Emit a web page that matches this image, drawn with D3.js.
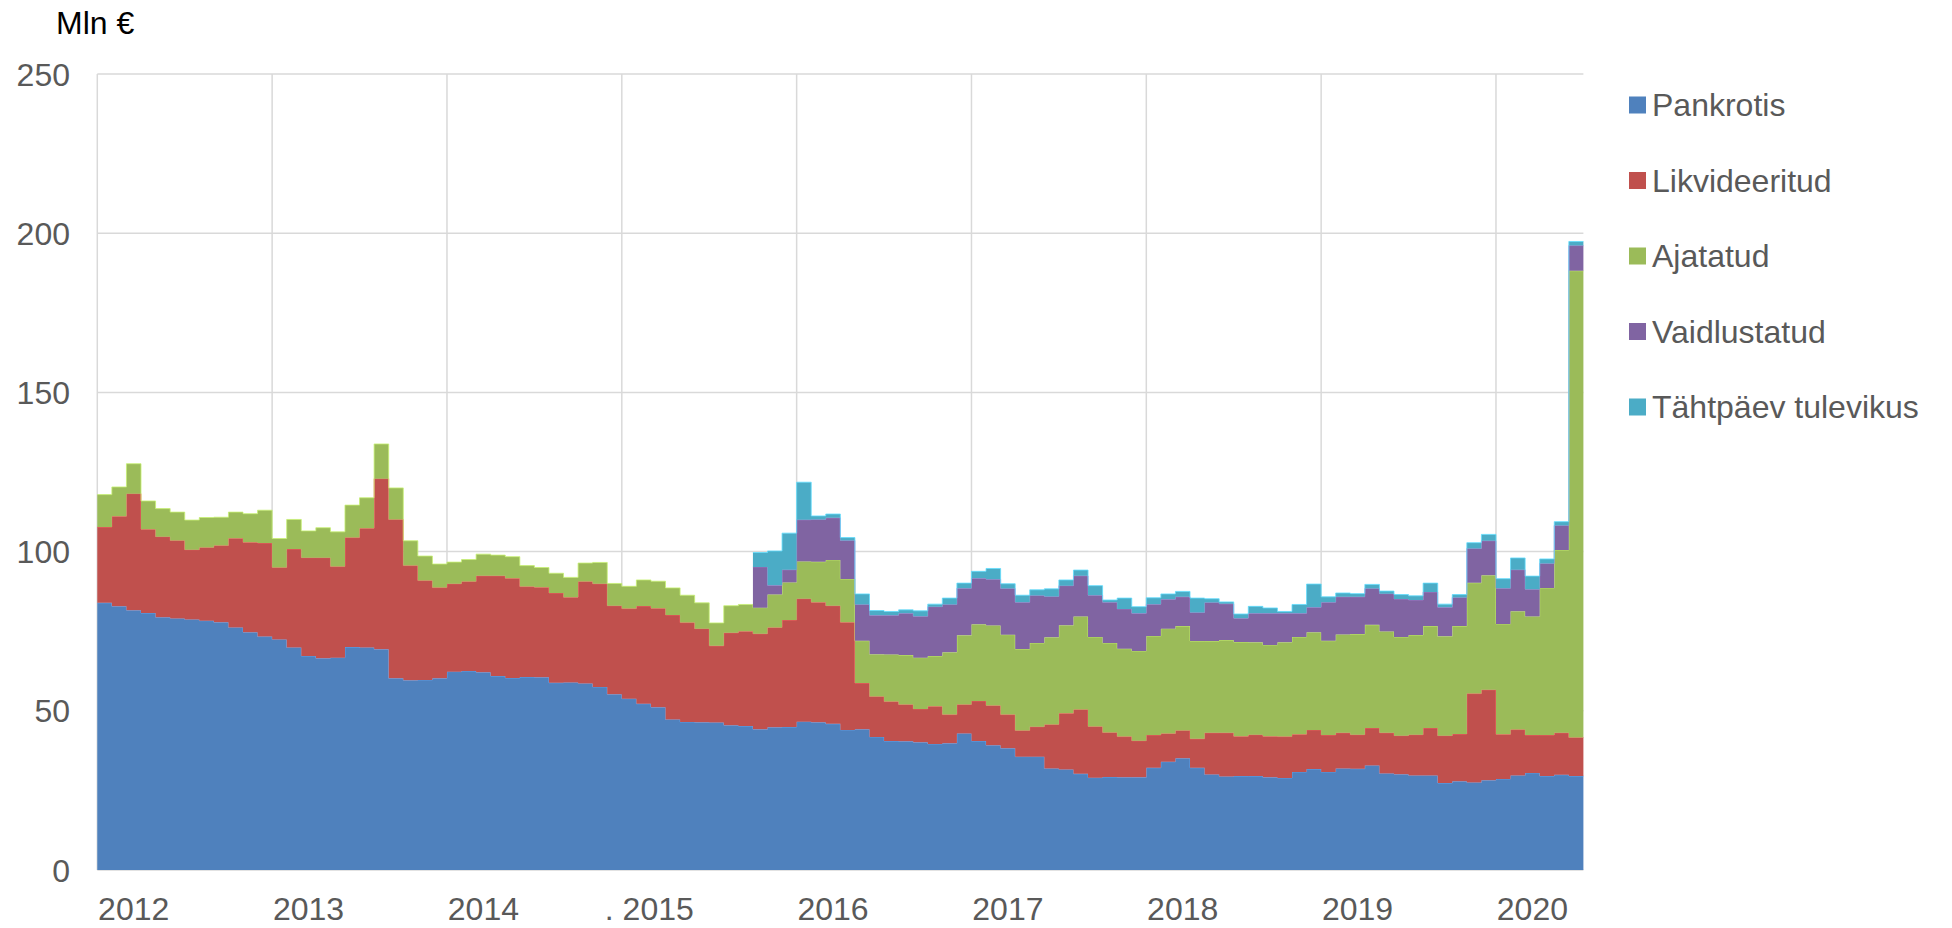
<!DOCTYPE html>
<html>
<head>
<meta charset="utf-8">
<script src="https://cdn.jsdelivr.net/npm/d3@7"></script>
<style>
  html, body { margin: 0; padding: 0; background: #fff; }
  svg { display: block; font-family: "Liberation Sans", Arial, sans-serif; }
</style>
</head>
<body>
<svg id="chart" width="1952" height="928"></svg>
<script>
// ---- data (Mln €), monthly Jan 2012 – Jun 2020 ----
const years = [2012, 2013, 2014, 2015, 2016, 2017, 2018, 2019, 2020];
const yearLabels = ["2012", "2013", "2014", ". 2015", "2016", "2017", "2018", "2019", "2020"];
const seriesNames = ["Pankrotis", "Likvideeritud", "Ajatatud", "Vaidlustatud", "Tähtpäev tulevikus"];
const yTicks = [0, 50, 100, 150, 200, 250];

const pankrotis = [
  83.9, 82.8, 81.6, 80.7, 79.4, 79.0, 78.7, 78.3, 77.8, 76.2, 74.7, 73.3,
  72.4, 69.9, 67.2, 66.5, 66.7, 70.0, 69.9, 69.3, 60.2, 59.6, 59.7, 60.2,
  62.3, 62.5, 62.1, 60.9, 60.3, 60.6, 60.5, 58.8, 58.9, 58.6, 57.5, 55.2,
  53.8, 52.2, 51.1, 47.3, 46.5, 46.4, 46.3, 45.5, 45.2, 44.2, 44.8, 44.9,
  46.6, 46.4, 45.9, 44.0, 44.2, 41.8, 40.5, 40.4, 40.1, 39.6, 39.8, 42.9,
  40.5, 39.2, 38.2, 35.6, 35.6, 31.9, 31.6, 30.2, 29.0, 29.2, 29.1, 29.1,
  32.1, 34.0, 35.1, 32.1, 30.0, 29.4, 29.5, 29.5, 29.1, 28.9, 30.8, 31.7,
  30.8, 31.9, 31.8, 32.8, 30.3, 30.1, 29.7, 29.7, 27.3, 27.9, 27.5, 28.2,
  28.6, 29.7, 30.5, 29.5, 29.9, 29.5
];
const likvideeritud = [
  23.8, 28.3, 36.6, 26.3, 25.3, 24.5, 21.9, 23.0, 24.1, 28.0, 28.2, 29.4,
  22.6, 30.9, 30.9, 31.6, 28.6, 34.4, 37.4, 53.6, 49.9, 36.0, 31.2, 28.5,
  27.6, 28.1, 30.3, 31.5, 31.3, 28.4, 28.3, 28.2, 26.8, 32.0, 32.4, 27.8,
  28.3, 30.7, 31.1, 32.8, 31.2, 29.4, 24.1, 29.0, 29.8, 30.0, 31.4, 33.6,
  38.6, 37.7, 37.1, 33.8, 14.5, 12.7, 12.4, 11.6, 10.5, 11.8, 9.0, 9.1,
  12.6, 12.5, 10.6, 8.2, 9.4, 13.8, 17.6, 20.2, 16.1, 14.0, 12.8, 11.5,
  10.3, 8.9, 8.7, 9.1, 13.1, 13.7, 12.5, 13.0, 12.9, 13.0, 11.8, 12.3,
  11.6, 11.2, 10.7, 11.8, 12.8, 12.1, 12.8, 14.9, 14.9, 14.8, 27.9, 28.4,
  14.0, 14.4, 11.9, 12.9, 13.2, 12.1
];
const ajatatud = [
  10.2, 9.2, 9.4, 8.9, 8.8, 8.9, 9.3, 9.4, 8.9, 8.2, 9.0, 10.3,
  9.1, 9.3, 8.4, 9.4, 10.9, 10.2, 9.6, 10.9, 9.9, 7.8, 7.7, 7.4,
  6.8, 6.9, 6.8, 6.5, 6.8, 6.6, 6.2, 6.2, 6.2, 5.8, 6.7, 7.0,
  7.0, 8.2, 8.5, 8.5, 8.6, 8.1, 7.2, 8.5, 8.4, 8.2, 10.3, 11.8,
  11.7, 12.7, 14.4, 13.6, 13.3, 13.3, 14.8, 15.5, 16.1, 15.8, 19.6, 21.7,
  24.1, 25.1, 25.1, 25.6, 26.3, 27.4, 27.7, 29.2, 28.1, 28.1, 27.6, 28.2,
  31.1, 32.9, 32.8, 30.7, 28.8, 29.1, 29.6, 29.0, 28.7, 29.6, 30.6, 30.7,
  29.6, 30.9, 31.6, 32.4, 31.8, 31.0, 31.3, 32.0, 31.2, 33.9, 34.8, 36.0,
  34.7, 37.2, 37.2, 46.2, 57.4, 146.6
];
const vaidlustatud = [
  0, 0, 0, 0, 0, 0, 0, 0, 0, 0, 0, 0,
  0, 0, 0, 0, 0, 0, 0, 0, 0, 0, 0, 0,
  0, 0, 0, 0, 0, 0, 0, 0, 0, 0, 0, 0,
  0, 0, 0, 0, 0, 0, 0, 0, 0, 12.8, 2.9, 4.0,
  13.1, 13.3, 13.2, 12.1, 11.4, 12.2, 12.3, 13.1, 13.0, 15.5, 15.0, 14.8,
  14.4, 14.5, 14.5, 14.7, 14.9, 12.8, 12.4, 12.8, 13.1, 12.8, 12.5, 11.8,
  10.0, 9.2, 9.2, 9.0, 12.1, 11.4, 7.5, 9.1, 9.9, 9.1, 7.4, 7.8,
  12.1, 11.8, 11.7, 11.4, 11.9, 11.9, 11.0, 10.7, 9.1, 9.0, 10.8, 10.8,
  11.2, 13.0, 8.6, 7.7, 7.7, 7.9
];
const tahtpaev = [
  0, 0, 0, 0, 0, 0, 0, 0, 0, 0, 0, 0,
  0, 0, 0, 0, 0, 0, 0, 0, 0, 0, 0, 0,
  0, 0, 0, 0, 0, 0, 0, 0, 0, 0, 0, 0,
  0, 0, 0, 0, 0, 0, 0, 0, 0, 4.5, 10.8, 11.5,
  11.8, 1.1, 1.2, 0.9, 3.3, 1.5, 1.2, 1.1, 1.7, 0.8, 2.0, 1.6,
  2.2, 3.4, 1.5, 2.2, 1.8, 2.4, 1.8, 1.8, 3.0, 0.7, 3.4, 2.1,
  2.0, 1.7, 1.7, 4.5, 1.2, 0.6, 1.3, 2.2, 1.7, 0.6, 2.8, 7.3,
  1.7, 1.2, 1.0, 1.3, 0.8, 1.4, 1.3, 2.8, 1.0, 0.9, 1.8, 2.0,
  3.0, 3.7, 4.1, 1.4, 1.2, 1.3
];

const colors = ["#4F81BD", "#C0504D", "#9BBB59", "#8064A2", "#4BACC6"];

// ---- table ----
const keys = ["p", "l", "a", "v", "t"];
const table = pankrotis.map((d, i) => ({
  idx: i, p: pankrotis[i], l: likvideeritud[i], a: ajatatud[i], v: vaidlustatud[i], t: tahtpaev[i]
}));

const svg = d3.select("#chart");
const plotLeft = 97.3, plotRight = 1583.4, plotTop = 74, plotBottom = 870;

const x = d3.scaleBand().domain(table.map(d => d.idx)).range([plotLeft, plotRight]).padding(0);
const y = d3.scaleLinear().domain([0, 250]).range([plotBottom, plotTop]);
const bw = x.bandwidth();

// gridlines
const grid = svg.append("g");
grid.selectAll("line.h").data(yTicks).join("line")
  .attr("x1", plotLeft).attr("x2", plotRight)
  .attr("y1", d => y(d)).attr("y2", d => y(d))
  .attr("stroke", "#d9d9d9").attr("stroke-width", 1.5);
grid.selectAll("line.v").data(years).join("line")
  .attr("x1", (d, i) => x(i * 12)).attr("x2", (d, i) => x(i * 12))
  .attr("y1", plotTop).attr("y2", plotBottom)
  .attr("stroke", "#d9d9d9").attr("stroke-width", 1.5);

// stacked step areas
const stack = d3.stack().keys(keys);
const layers = stack(table);

const area = d3.area()
  .x(d => d.x)
  .y0(d => y(d.y0))
  .y1(d => y(d.y1));

const plot = svg.append("g");
layers.forEach((layer, k) => {
  const pts = [];
  layer.forEach((s, i) => {
    const x0 = x(table[i].idx);
    pts.push({ x: x0, y0: s[0], y1: s[1] });
    pts.push({ x: x0 + bw, y0: s[0], y1: s[1] });
  });
  plot.append("path")
    .attr("d", area(pts))
    .attr("fill", colors[k]);
  const line = d3.line().x(d => d.x).y(d => y(d.y1));
  const segs = [];
  let cur = [];
  layer.forEach((s, i) => {
    if (s[1] - s[0] > 0) {
      const x0 = x(table[i].idx);
      cur.push({ x: x0, y1: s[1] }, { x: x0 + bw, y1: s[1] });
    } else if (cur.length) { segs.push(cur); cur = []; }
  });
  if (cur.length) segs.push(cur);
  segs.forEach(sg => {
    plot.append("path")
      .attr("d", line(sg))
      .attr("fill", "none")
      .attr("stroke", d3.color(colors[k]).brighter(0.7))
      .attr("stroke-width", 1)
      .attr("stroke-opacity", 0.8);
  });
});

// y axis labels
svg.append("g").selectAll("text").data(yTicks).join("text")
  .attr("x", 70).attr("y", d => y(d) + 11.5)
  .attr("text-anchor", "end")
  .attr("font-size", 32).attr("fill", "#595959")
  .text(d => d);

// x axis labels
svg.append("g").selectAll("text").data(yearLabels).join("text")
  .attr("x", (d, i) => x(i * 12) + 72)
  .attr("y", 920)
  .attr("text-anchor", "end")
  .attr("font-size", 32).attr("fill", "#595959")
  .text(d => d);

// unit title
svg.append("text").attr("x", 56).attr("y", 34)
  .attr("font-size", 32).attr("fill", "#000").text("Mln €");

// legend
const lg = svg.append("g");
const legendY = [105, 180.5, 256, 331.5, 407];
seriesNames.forEach((name, i) => {
  lg.append("rect").attr("x", 1629).attr("y", legendY[i] - 8.5)
    .attr("width", 17).attr("height", 17).attr("fill", colors[i]);
  lg.append("text").attr("x", 1652).attr("y", legendY[i] + 11)
    .attr("font-size", 32).attr("fill", "#595959").text(name);
});
</script>
</body>
</html>
